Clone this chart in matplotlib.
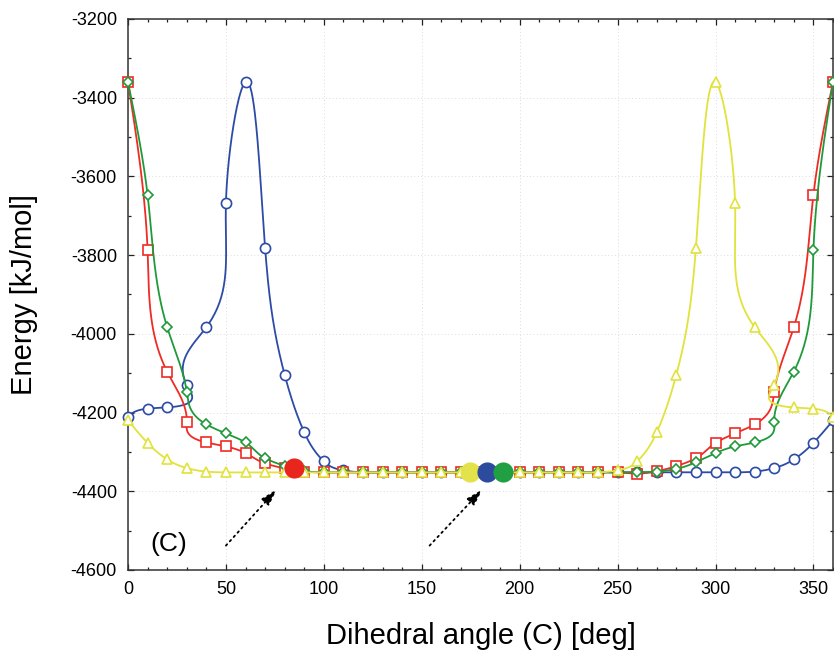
import numpy as np
import matplotlib
matplotlib.use("Agg")
import matplotlib.pyplot as plt
from matplotlib.ticker import MultipleLocator

plt.rcParams['font.family'] = ['Liberation Sans', 'DejaVu Sans']
plt.rcParams['axes.unicode_minus'] = False

# ---------------- data ----------------
angles = list(range(0, 361, 10))

energy_blue = [-4210, -4190, -4187, -4129, -3983, -3668, -3360, -3781, -4104, -4250,
               -4324, -4347, -4352, -4352, -4352, -4352, -4352, -4352, -4352, -4352,
               -4352, -4352, -4352, -4352, -4352, -4352, -4352, -4352, -4352, -4352,
               -4352, -4352, -4350, -4341, -4319, -4277, -4220]

energy_red = [-3360, -3788, -4096, -4223, -4276, -4286, -4303, -4329, -4342, -4350,
              -4352, -4352, -4352, -4352, -4352, -4352, -4352, -4352, -4352, -4352,
              -4352, -4352, -4352, -4352, -4352, -4352, -4355, -4349, -4336, -4316,
              -4277, -4253, -4230, -4147, -3983, -3647, -3360]

energy_green = [-3360, -3647, -3983, -4147, -4230, -4253, -4276, -4316, -4336, -4349,
                -4352, -4352, -4352, -4352, -4352, -4352, -4352, -4352, -4352, -4352,
                -4352, -4352, -4352, -4352, -4352, -4352, -4352, -4350, -4343, -4326,
                -4303, -4286, -4276, -4223, -4096, -3788, -3360]

energy_yellow = [-4220, -4277, -4319, -4341, -4350, -4352, -4352, -4352, -4352, -4352,
                 -4352, -4352, -4352, -4352, -4352, -4352, -4352, -4352, -4352, -4352,
                 -4352, -4352, -4352, -4352, -4352, -4347, -4324, -4250, -4104, -3781,
                 -3360, -3668, -3983, -4129, -4187, -4190, -4210]

# highlighted minima (big dots)
min_labels = ['red', 'yellow', 'blue', 'green']
min_angles = [85, 174.5, 183.5, 191.5]
min_energy = [-4340, -4352, -4352, -4352]

# arrows (tail -> head), in data units
arrow_tail_x = [50, 154]
arrow_tail_y = [-4538, -4538]
arrow_head_x = [76, 181]
arrow_head_y = [-4395, -4395]

panel_label = '(C)'
xlabel = 'Dihedral angle (C) [deg]'
ylabel = 'Energy [kJ/mol]'

# ---------------- styling ----------------
C_BLUE = '#2C4BA6'
C_RED = '#EE2B24'
C_GREEN = '#1F9A3A'
C_YELLOW = '#E2E23C'
DOT_COLORS = {'red': '#E8261E', 'yellow': '#E4E24A', 'blue': '#2D4B9E', 'green': '#21A043'}


def natural_spline(t, v, tt):
    t = np.asarray(t, float)
    v = np.asarray(v, float)
    n = len(t)
    h = np.diff(t)
    A = np.zeros((n, n))
    r = np.zeros(n)
    A[0, 0] = 1.0
    A[-1, -1] = 1.0
    for i in range(1, n - 1):
        A[i, i - 1] = h[i - 1]
        A[i, i] = 2 * (h[i - 1] + h[i])
        A[i, i + 1] = h[i]
        r[i] = 6 * ((v[i + 1] - v[i]) / h[i] - (v[i] - v[i - 1]) / h[i - 1])
    M = np.linalg.solve(A, r)
    idx = np.clip(np.searchsorted(t, tt) - 1, 0, n - 2)
    t0, t1 = t[idx], t[idx + 1]
    hh = t1 - t0
    a = (t1 - tt) / hh
    b = (tt - t0) / hh
    return (a * v[idx] + b * v[idx + 1]
            + ((a ** 3 - a) * M[idx] + (b ** 3 - b) * M[idx + 1]) * hh ** 2 / 6.0)


def smooth_curve(x, y, per_seg=40):
    x = np.asarray(x, float)
    y = np.asarray(y, float)
    d = np.hypot(np.diff(x), np.diff(y))
    t = np.concatenate([[0], np.cumsum(d)])
    tt = np.concatenate([np.linspace(t[i], t[i + 1], per_seg, endpoint=False)
                         for i in range(len(t) - 1)] + [[t[-1]]])
    return natural_spline(t, x, tt), natural_spline(t, y, tt)


fig = plt.figure(figsize=(8.34, 6.63), dpi=100)
ax = fig.add_axes([128 / 834, (663 - 570) / 663, (833 - 128) / 834, (570 - 19) / 663])

series = [
    (energy_blue, C_BLUE, 'o', 7.3),
    (energy_red, C_RED, 's', 7.0),
    (energy_green, C_GREEN, 'D', 4.8),
    (energy_yellow, C_YELLOW, '^', 7.3),
]
for k, (vals, col, mk, ms) in enumerate(series):
    sx, sy = smooth_curve(angles, vals)
    ax.plot(sx, sy, color=col, lw=1.3, zorder=3 + k, clip_on=True)
    ax.plot(angles, vals, linestyle='none', marker=mk, ms=ms, mec=col, mfc='white',
            mew=1.2, zorder=3 + k, clip_on=False)

for lab, xa, ya in zip(min_labels, min_angles, min_energy):
    ax.plot([xa], [ya], 'o', ms=14.5, color=DOT_COLORS[lab], mec='none', zorder=10)

for tx, ty, hx, hy in zip(arrow_tail_x, arrow_tail_y, arrow_head_x, arrow_head_y):
    ax.annotate('', xy=(hx, hy), xytext=(tx, ty),
                arrowprops=dict(arrowstyle='-|>,head_length=1.0,head_width=0.3',
                                linestyle=(0, (1, 2.2)), color='black', lw=1.3,
                                shrinkA=0, shrinkB=0),
                zorder=11)

ax.text(11.5, -4533, panel_label, fontsize=19, ha='left', va='center', zorder=12)

ax.set_xlim(0, 360)
ax.set_ylim(-4600, -3200)
ax.xaxis.set_major_locator(MultipleLocator(50))
ax.xaxis.set_minor_locator(MultipleLocator(10))
ax.yaxis.set_major_locator(MultipleLocator(200))
ax.yaxis.set_minor_locator(MultipleLocator(100))

ax.grid(True, which='major', linestyle=(0, (1, 2.5)), color='#dcdcdc', lw=0.7, zorder=0)
ax.set_axisbelow(True)

ax.tick_params(which='both', direction='in', top=True, right=True, width=0.9,
               colors='#222222', labelcolor='black', labelsize=13, pad=8)
ax.tick_params(which='major', length=4.3)
ax.tick_params(which='minor', length=2.2)

for s in ax.spines.values():
    s.set_linewidth(1.1)
    s.set_color('#333333')

ax.set_xlabel(xlabel, fontsize=21)
ax.set_ylabel(ylabel, fontsize=21)
ax.xaxis.set_label_coords(0.5, -0.095)
ax.yaxis.set_label_coords(-0.128, 0.5)

fig.savefig('out.png', dpi=100)
